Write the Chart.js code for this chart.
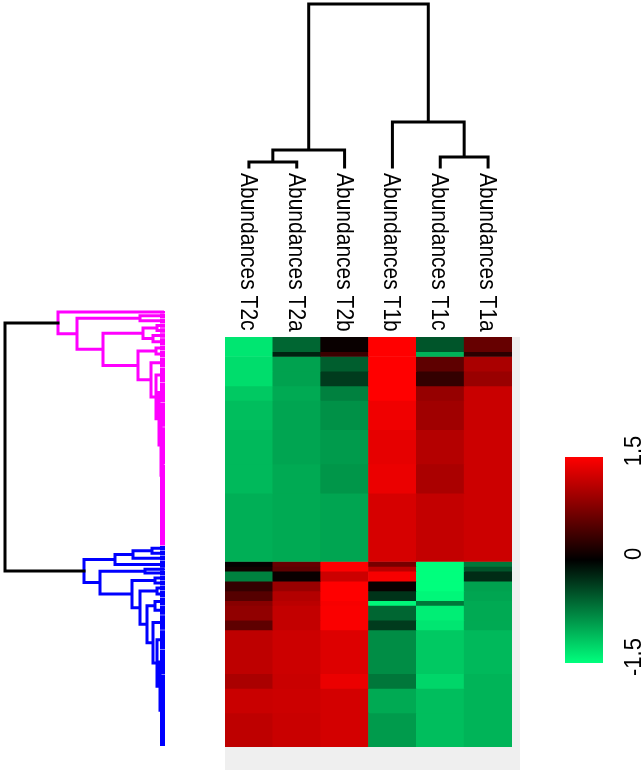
<!DOCTYPE html>
<html>
<head>
<meta charset="utf-8">
<script src="https://cdn.jsdelivr.net/npm/chart.js@4.4.0/dist/chart.umd.min.js"></script>
<style>
  html, body { margin: 0; padding: 0; background: #fff; }
  #wrap { position: relative; width: 644px; height: 774px; overflow: hidden; }
  #wrap canvas { position: absolute; }
  #shade { position: absolute; left: 225px; top: 337px; width: 295px; height: 433px; background: #efefef; }
</style>
</head>
<body>
<div id="wrap">
  <div id="shade"></div>
  <canvas id="col-dendro" width="287" height="175" style="left:225px;top:0"></canvas>
  <canvas id="heatmap" width="287" height="577" style="left:225px;top:170px"></canvas>
  <canvas id="row-dendro" width="180" height="460" style="left:0;top:300px"></canvas>
  <canvas id="colorkey" width="89" height="260" style="left:555px;top:430px"></canvas>
</div>
<script>
// columns in dendrogram order
const columns = ['Abundances T2c', 'Abundances T2a', 'Abundances T2b', 'Abundances T1b', 'Abundances T1c', 'Abundances T1a'];

// number of proteins in each horizontal band of the heatmap (top to bottom)
const rowSizes = [3, 1, 3, 3, 3, 6, 7, 6, 14, 1, 1, 2, 2, 2, 1, 3, 2, 9, 3, 5, 7];

// z-scores per band, one array per column
const zT2c = [-1.35, -1.35, -1.3, -1.3, -1.18, -1.12, -1.09, -1.09, -1.03, 0.03, 0.1, -0.76, 0.3, 0.5, 0.8, 0.85, 0.55, 1.12, 1.0, 1.18, 1.12];
const zT2a = [-0.6, -0.2, -0.95, -0.95, -1.0, -0.97, -0.97, -1.0, -1.0, 0.6, 0.55, 0.05, 0.9, 1.05, 1.1, 1.15, 1.15, 1.2, 1.18, 1.2, 1.18];
const zT2b = [0.05, 0.35, -0.55, -0.35, -0.76, -0.85, -0.91, -0.88, -0.97, 1.5, 1.5, 1.2, 1.5, 1.5, 1.45, 1.47, 1.47, 1.3, 1.38, 1.24, 1.24];
const zT1b = [1.5, 1.5, 1.5, 1.5, 1.5, 1.41, 1.35, 1.38, 1.26, 0.7, 1.1, 1.45, 0.05, -0.3, -1.45, -0.6, -0.35, -0.83, -0.7, -1.0, -0.91];
const zT1c = [-0.5, -1.05, 0.55, 0.3, 0.88, 0.94, 1.06, 1.0, 1.15, -1.5, -1.5, -1.5, -1.5, -1.45, -0.7, -1.4, -1.35, -1.18, -1.26, -1.12, -1.12];
const zT1a = [0.6, 0.25, 1.0, 0.9, 1.18, 1.18, 1.2, 1.2, 1.2, -0.7, -0.5, -0.25, -0.95, -0.97, -1.0, -1.0, -1.0, -1.09, -1.06, -1.06, -1.06];
const zByColumn = [zT2c, zT2a, zT2b, zT1b, zT1c, zT1a];

// dendrograms: [height, left, right]; a number is a tight bundle of that many leaves
const colTree = [163, [17, [5, 'Abundances T2c', 'Abundances T2a'], 'Abundances T2b'],
                      [45, 'Abundances T1b', [10, 'Abundances T1c', 'Abundances T1a']]];
const rowRootHeight = 160;
const pinkTree = [107, 1, [88, [25, 2, 2], [62, [22, [8, 2, 2], [12, 2, 3]],
                  [27, [9, 2, 3], [14, 4, [9, 6, [6, 8, [4, 10, [3, 15, 33]]]]]]]]];
const blueTree = [81, [50, [32, [13, 2, 2], 2], 3],
                  [65, [20, 1, 2], [33, [10, 2, 2], [25, [8, 2, 3], [18, [10, 3, 4], [12, 6, [8, 8, [5, 10, 29]]]]]]]];

// colour key
const colorRange = [-1.5, 1.5];
const colorTicks = [1.5, 0, -1.5];

const BUNDLE_H = 2.5;
const FONT = '"Liberation Sans", Arial, sans-serif';

function zColor(z) {
  const t = Math.min(Math.abs(z) / 1.5, 1);
  return z >= 0
    ? `rgb(${Math.round(255 * t)},0,0)`
    : `rgb(0,${Math.round(255 * t)},${Math.round(125 * t)})`;
}

// segs gets the U-shaped links, bundles the leaf bundles
function layout(node, state, segs, bundles, leafPos) {
  if (typeof node === 'string') return { pos: leafPos(node), h: 0 };
  if (typeof node === 'number') {
    const first = state.next, last = first + node - 1;
    state.next += node;
    bundles.push([[first - 0.4, BUNDLE_H], [last + 0.4, BUNDLE_H]]);
    return { pos: (first + last) / 2, h: BUNDLE_H };
  }
  const [h, left, right] = node;
  const a = layout(left, state, segs, bundles, leafPos);
  const b = layout(right, state, segs, bundles, leafPos);
  segs.push([[a.pos, a.h], [a.pos, h], [b.pos, h], [b.pos, b.h]]);
  return { pos: (a.pos + b.pos) / 2, h };
}

// segments -> line points, null between segments
function toPoints(segs, rowWise) {
  const pts = [];
  segs.forEach(s => {
    s.forEach(([pos, h]) => pts.push(rowWise ? { x: h, y: pos } : { x: pos, y: h }));
    pts.push({ x: null, y: null });
  });
  return pts;
}

const lineSet = (data, color, width = 3, cap = 'square') => ({
  data,
  borderColor: color,
  borderWidth: width,
  pointRadius: 0,
  spanGaps: false,
  tension: 0,
  fill: false,
  clip: false,
  borderCapStyle: cap,
  borderJoinStyle: 'miter'
});

const base = extra => ({
  responsive: false,
  animation: false,
  devicePixelRatio: 1,
  events: [],
  plugins: { legend: { display: false }, tooltip: { enabled: false } },
  ...extra
});

// column dendrogram
const colSegs = [];
layout(colTree, { next: 0 }, colSegs, [], name => columns.indexOf(name) + 0.5);
new Chart(document.getElementById('col-dendro'), {
  type: 'line',
  data: { datasets: [lineSet(toPoints(colSegs, false), '#000')] },
  options: base({
    layout: { padding: { top: 4, bottom: 8 } },
    scales: {
      x: { type: 'linear', display: false, min: 0, max: columns.length },
      y: { type: 'linear', display: false, min: 0, max: colTree[0] }
    }
  })
});

// row dendrogram
const rowState = { next: 0 };
const pinkSegs = [], blueSegs = [], pinkBundles = [], blueBundles = [];
const pink = layout(pinkTree, rowState, pinkSegs, pinkBundles);
const blue = layout(blueTree, rowState, blueSegs, blueBundles);
const totalLeaves = rowState.next;
const rootSegs = [[[pink.pos, pink.h], [pink.pos, rowRootHeight], [blue.pos, rowRootHeight], [blue.pos, blue.h]]];

new Chart(document.getElementById('row-dendro'), {
  type: 'line',
  data: {
    datasets: [
      lineSet(toPoints(rootSegs, true), '#000'),
      lineSet(toPoints(pinkSegs, true), '#ff00ff'),
      lineSet(toPoints(blueSegs, true), '#0000ff'),
      lineSet(toPoints(pinkBundles, true), '#ff00ff', 5, 'butt'),
      lineSet(toPoints(blueBundles, true), '#0000ff', 5, 'butt')
    ]
  },
  options: base({
    layout: { padding: { left: 5, right: 15, top: 12, bottom: 15 } },
    scales: {
      x: { type: 'linear', display: false, min: 0, max: rowRootHeight, reverse: true },
      y: { type: 'linear', display: false, min: 0, max: totalLeaves - 1, reverse: true }
    }
  })
});

// heatmap: one stacked dataset per band
const totalRows = rowSizes.reduce((s, n) => s + n, 0);

const colLabels = {
  id: 'colLabels',
  afterDraw(chart) {
    const { ctx } = chart;
    const x = chart.scales.x;
    ctx.save();
    ctx.fillStyle = '#000';
    ctx.font = '21px ' + FONT;
    ctx.textAlign = 'left';
    ctx.textBaseline = 'alphabetic';
    columns.forEach((label, i) => {
      ctx.save();
      ctx.translate(x.getPixelForValue(i) - 8, 3);
      ctx.scale(1.1, 1);
      ctx.rotate(Math.PI / 2);
      ctx.fillText(label, 0, 0);
      ctx.restore();
    });
    ctx.restore();
  }
};

new Chart(document.getElementById('heatmap'), {
  type: 'bar',
  data: {
    labels: columns,
    datasets: rowSizes.map((n, b) => ({
      data: columns.map(() => n),
      backgroundColor: zByColumn.map(col => zColor(col[b])),
      borderWidth: 0,
      barPercentage: 1,
      categoryPercentage: 1,
      stack: 'rows'
    }))
  },
  options: base({
    layout: { padding: { top: 167 } },
    scales: {
      x: { display: false, stacked: true },
      y: { display: false, stacked: true, reverse: true, min: 0, max: totalRows }
    }
  }),
  plugins: [colLabels]
});

// colour key
const keyLabels = {
  id: 'keyLabels',
  afterDraw(chart) {
    const { ctx } = chart;
    const y = chart.scales.y;
    ctx.save();
    ctx.fillStyle = '#000';
    ctx.font = '22px ' + FONT;
    ctx.textAlign = 'center';
    ctx.textBaseline = 'alphabetic';
    colorTicks.forEach(v => {
      ctx.save();
      ctx.translate(chart.width - 3, y.getPixelForValue(v) - 6);
      ctx.scale(1.1, 1);
      ctx.rotate(-Math.PI / 2);
      ctx.fillText(String(v), 0, 0);
      ctx.restore();
    });
    ctx.restore();
  }
};

new Chart(document.getElementById('colorkey'), {
  type: 'bar',
  data: {
    labels: [''],
    datasets: [{
      data: [colorRange],
      backgroundColor: c => {
        const chart = c.chart;
        if (!chart.chartArea) return '#000';
        const y = chart.scales.y;
        const g = chart.ctx.createLinearGradient(0, y.getPixelForValue(colorRange[1]), 0, y.getPixelForValue(colorRange[0]));
        g.addColorStop(0, zColor(colorRange[1]));
        g.addColorStop(0.5, zColor(0));
        g.addColorStop(1, zColor(colorRange[0]));
        return g;
      },
      borderWidth: 0,
      barPercentage: 1,
      categoryPercentage: 1
    }]
  },
  options: base({
    layout: { padding: { left: 10, right: 41, top: 27, bottom: 27 } },
    scales: {
      x: { display: false },
      y: { display: false, min: colorRange[0], max: colorRange[1] }
    }
  }),
  plugins: [keyLabels]
});
</script>
</body>
</html>
